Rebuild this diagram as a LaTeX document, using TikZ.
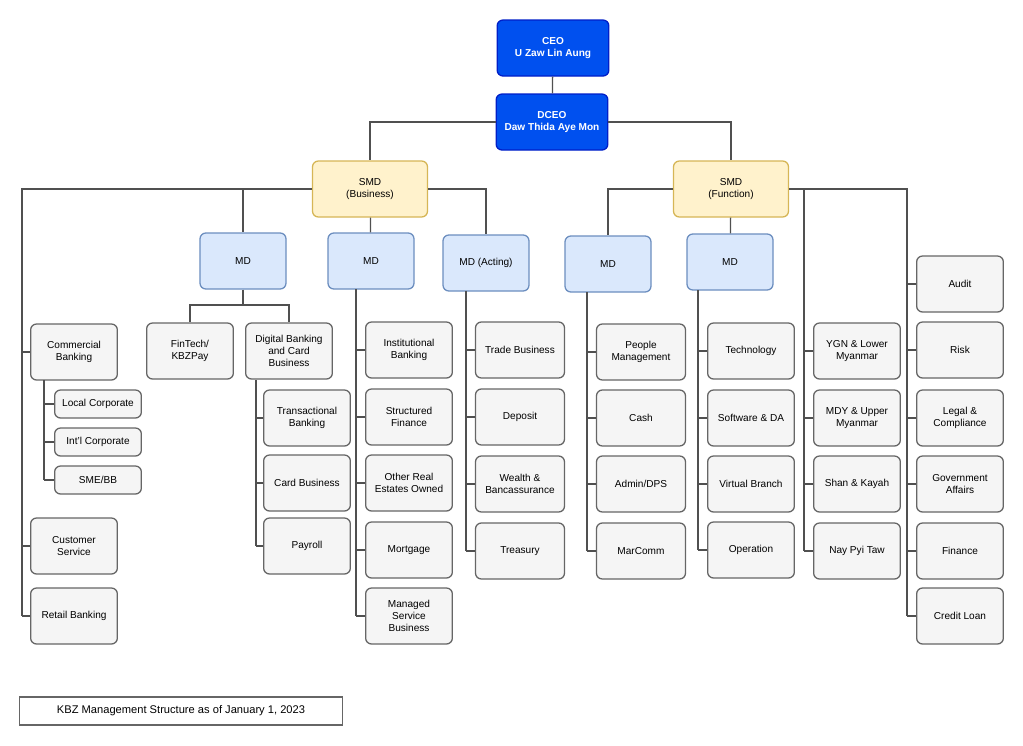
\documentclass[tikz,border=0pt]{standalone}
\usepackage{fontspec}
\setmainfont{Liberation Sans}
\usetikzlibrary{calc}
\definecolor{blue1}{RGB}{0, 80, 239}
\definecolor{blueb}{RGB}{0, 30, 200}
\definecolor{yel1}{RGB}{255, 242, 204}
\definecolor{yelb}{RGB}{214, 182, 86}
\definecolor{lb1}{RGB}{218, 232, 252}
\definecolor{lbb}{RGB}{108, 142, 191}
\definecolor{gr1}{RGB}{245, 245, 245}
\definecolor{grb}{RGB}{102, 102, 102}
\definecolor{ln}{RGB}{80, 80, 80}
\begin{document}
\begin{tikzpicture}[x=0.03cm, y=-0.03cm, line width=1.1pt,
  every node/.style={font=\fontsize{8.6}{10}\selectfont, align=center, rounded corners=5pt},
  top/.style={draw=blueb, fill=blue1, text=white, font=\fontsize{8.6}{10}\selectfont\bfseries, minimum width=3.35cm, minimum height=1.68cm},
  smd/.style={draw=yelb, fill=yel1, minimum width=3.45cm, minimum height=1.68cm},
  md/.style={draw=lbb, fill=lb1, minimum width=2.58cm, minimum height=1.68cm},
  box/.style={draw=grb, fill=gr1, minimum width=2.6cm, minimum height=1.68cm, inner sep=1pt},
  sbox/.style={box, minimum height=0.84cm},
  wire/.style={draw=ln, line width=1.1pt}]
  \useasboundingbox (0,0) rectangle (1023,745);
  % top
  \node[top] (ceo) at (553,48) {CEO\\U Zaw Lin Aung};
  \node[top] (dceo) at (552,122) {DCEO\\Daw Thida Aye Mon};
  \node[smd] (smdb) at (370,189) {SMD\\(Business)};
  \node[smd] (smdf) at (731,189) {SMD\\(Function)};
  % MDs
  \node[md] (md1) at (243,261) {MD};
  \node[md] (md2) at (371,261) {MD};
  \node[md] (md3) at (486,263) {MD (Acting)};
  \node[md] (md4) at (608,264) {MD};
  \node[md] (md5) at (730,262) {MD};
  % business side
  \node[box] (cb) at (74,352) {Commercial\\Banking};
  \node[sbox] (lc) at (98,404) {Local Corporate};
  \node[sbox] (ic) at (98,442) {Int'l Corporate};
  \node[sbox] (sme) at (98,480) {SME/BB};
  \node[box] (cs) at (74,546) {Customer\\Service};
  \node[box] (rb) at (74,616) {Retail Banking};
  \node[box] (ft) at (190,351) {FinTech/\\KBZPay};
  \node[box] (db) at (289,351) {Digital Banking\\and Card\\Business};
  \node[box] (tb) at (307,418) {Transactional\\Banking};
  \node[box] (cdb) at (307,483) {Card Business};
  \node[box] (pr) at (307,546) {Payroll};
  \node[box] (ib) at (409,350) {Institutional\\Banking};
  \node[box] (sf) at (409,417) {Structured\\Finance};
  \node[box] (ore) at (409,483) {Other Real\\Estates Owned};
  \node[box] (mg) at (409,550) {Mortgage};
  \node[box] (msb) at (409,616) {Managed\\Service\\Business};
  \node[box, minimum width=2.67cm] (trb) at (520,350) {Trade Business};
  \node[box, minimum width=2.67cm] (dp) at (520,417) {Deposit};
  \node[box, minimum width=2.67cm] (wb) at (520,484) {Wealth \&\\Bancassurance};
  \node[box, minimum width=2.67cm] (ts) at (520,551) {Treasury};
  % function side
  \node[box, minimum width=2.67cm] (pm) at (641,352) {People\\Management};
  \node[box, minimum width=2.67cm] (cash) at (641,418) {Cash};
  \node[box, minimum width=2.67cm] (adm) at (641,484) {Admin/DPS};
  \node[box, minimum width=2.67cm] (mc) at (641,551) {MarComm};
  \node[box] (tech) at (751,351) {Technology};
  \node[box] (sw) at (751,418) {Software \& DA};
  \node[box] (vb) at (751,484) {Virtual Branch};
  \node[box] (op) at (751,550) {Operation};
  \node[box] (ygn) at (857,351) {YGN \& Lower\\Myanmar};
  \node[box] (mdy) at (857,418) {MDY \& Upper\\Myanmar};
  \node[box] (shan) at (857,484) {Shan \& Kayah};
  \node[box] (npt) at (857,551) {Nay Pyi Taw};
  \node[box] (aud) at (960,284) {Audit};
  \node[box] (risk) at (960,350) {Risk};
  \node[box] (lgl) at (960,418) {Legal \&\\Compliance};
  \node[box] (gov) at (960,484) {Government\\Affairs};
  \node[box] (fin) at (960,551) {Finance};
  \node[box] (cl) at (960,616) {Credit Loan};
  \node[draw=grb, fill=white, rounded corners=0pt, minimum width=9.69cm, minimum height=0.84cm, font=\fontsize{9.5}{11}\selectfont] (cap) at (181,711) {KBZ Management Structure as of January 1, 2023};
  % trunk points
  \coordinate (t1) at (22,189);
  \coordinate (t2) at (44,380);
  \coordinate (t3) at (243,305);
  \coordinate (t4) at (256,380);
  \coordinate (t5) at (356,289);
  \coordinate (t6) at (466,291);
  \coordinate (t7) at (587,292);
  \coordinate (t8) at (698,290);
  \coordinate (t9) at (804,189);
  \coordinate (t10) at (907,189);
  % connectors
  \draw[wire] (ceo) -- (dceo);
  \draw[wire] (dceo.west) -| (smdb.north);
  \draw[wire] (dceo.east) -| (smdf.north);
  \draw[wire] (smdb.west) -- (t1) -- (t1 |- rb.west);
  \draw[wire] (smdb.west) -| (md1.north);
  \draw[wire] (smdb) -- (md2);
  \draw[wire] (smdb.east) -| (md3.north);
  \draw[wire] (smdf.west) -| (md4.north);
  \draw[wire] (smdf) -- (md5);
  \draw[wire] (smdf.east) -- (t10) -- (t10 |- cl.west);
  \draw[wire] (t9) -- (t9 |- npt.west);
  \draw[wire] (md1.south) -- (t3);
  \draw[wire] (t3) -| (ft.north);
  \draw[wire] (t3) -| (db.north);
  \draw[wire] (t2) -- (t2 |- sme.west);
  \draw[wire] (t4) -- (t4 |- pr.west);
  \draw[wire] (t5) -- (t5 |- msb.west);
  \draw[wire] (t6) -- (t6 |- ts.west);
  \draw[wire] (t7) -- (t7 |- mc.west);
  \draw[wire] (t8) -- (t8 |- op.west);
  \foreach \from/\to in {t1/cb, t1/cs, t1/rb, t2/lc, t2/ic, t2/sme,
    t4/tb, t4/cdb, t4/pr, t5/ib, t5/sf, t5/ore, t5/mg, t5/msb,
    t6/trb, t6/dp, t6/wb, t6/ts, t7/pm, t7/cash, t7/adm, t7/mc,
    t8/tech, t8/sw, t8/vb, t8/op, t9/ygn, t9/mdy, t9/shan, t9/npt,
    t10/aud, t10/risk, t10/lgl, t10/gov, t10/fin, t10/cl}
    \draw[wire] (\from |- \to.west) -- (\to.west);
\end{tikzpicture}
\end{document}
